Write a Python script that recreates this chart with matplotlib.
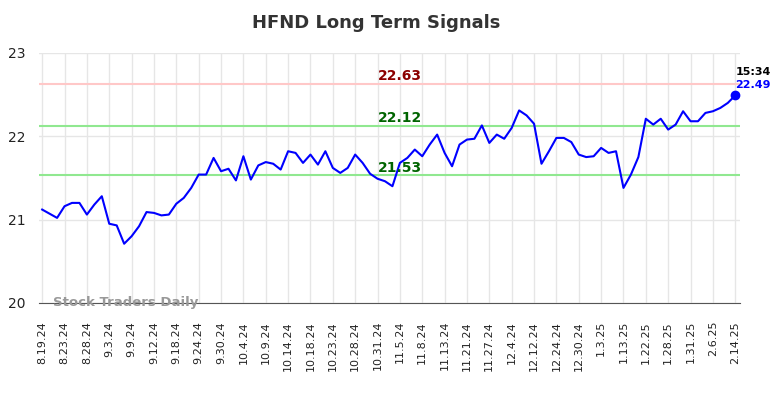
import matplotlib
matplotlib.use("Agg")
import matplotlib.pyplot as plt

# === Data ===
title = "HFND Long Term Signals"
tick_labels = ["8.19.24", "8.23.24", "8.28.24", "9.3.24", "9.9.24", "9.12.24", "9.18.24",
               "9.24.24", "9.30.24", "10.4.24", "10.9.24", "10.14.24", "10.18.24", "10.23.24",
               "10.28.24", "10.31.24", "11.5.24", "11.8.24", "11.13.24", "11.21.24", "11.27.24",
               "12.4.24", "12.12.24", "12.24.24", "12.30.24", "1.3.25", "1.13.25", "1.22.25",
               "1.28.25", "1.31.25", "2.6.25", "2.14.25"]
prices = [21.12, 21.07, 21.02, 21.16, 21.20, 21.20, 21.06, 21.18, 21.28, 20.95,
          20.93, 20.71, 20.80, 20.92, 21.09, 21.08, 21.05, 21.06, 21.19, 21.26,
          21.38, 21.54, 21.54, 21.74, 21.58, 21.61, 21.47, 21.76, 21.48, 21.65,
          21.69, 21.67, 21.60, 21.82, 21.80, 21.68, 21.78, 21.66, 21.82, 21.62,
          21.56, 21.62, 21.78, 21.68, 21.55, 21.49, 21.46, 21.40, 21.68, 21.74,
          21.84, 21.76, 21.90, 22.02, 21.80, 21.64, 21.90, 21.96, 21.97, 22.13,
          21.92, 22.02, 21.97, 22.10, 22.31, 22.25, 22.15, 21.67, 21.82, 21.98,
          21.98, 21.93, 21.78, 21.75, 21.76, 21.86, 21.80, 21.82, 21.38, 21.54,
          21.75, 22.21, 22.14, 22.21, 22.08, 22.14, 22.30, 22.18, 22.18, 22.28,
          22.30, 22.34, 22.40, 22.49]
resistance = 22.63
signals = [22.12, 21.53]
last_time = "15:34"
tick_step = 3

fig = plt.figure(figsize=(7.84, 3.98), dpi=100)
ax = fig.add_axes([0.050, 0.239, 0.894, 0.628])

x = list(range(len(prices)))
ax.plot(x, prices, color="blue", linewidth=1.5, zorder=3)
ax.plot(x[-1], prices[-1], "o", color="blue", markersize=6, zorder=4)

ax.axhline(resistance, color="#ffc8c8", linewidth=1.5, zorder=2)
for s in signals:
    ax.axhline(s, color="#90e890", linewidth=1.5, zorder=2)

# level labels sit a little right of the middle
label_x = 48
ax.text(label_x, resistance + 0.015, f"{resistance:.2f}", color="#8b0000", fontsize=10,
        fontweight="bold", ha="center", va="bottom")
for s in signals:
    ax.text(label_x, s + 0.01, f"{s:.2f}", color="#006400", fontsize=10,
            fontweight="bold", ha="center", va="bottom")

ax.text(x[-1], prices[-1] + 0.06, f"{prices[-1]:.2f}", color="blue", fontsize=8,
        fontweight="bold", ha="left", va="bottom")
ax.text(x[-1], prices[-1] + 0.22, last_time, color="black", fontsize=8,
        fontweight="bold", ha="left", va="bottom")

ax.text(1.5, 20.0, "Stock Traders Daily", color="#999999", fontsize=9.5,
        fontweight="bold", ha="left", va="center", zorder=5)

ax.set_xlim(-0.4, len(prices) - 0.35)
ax.set_ylim(20, 23)
ax.set_yticks([20, 21, 22, 23])
ax.set_xticks(range(0, len(prices), tick_step))
ax.set_xticklabels(tick_labels, rotation=90, fontsize=8)
ax.tick_params(axis="both", length=0, colors="#222222")
ax.tick_params(axis="x", pad=13)
ax.tick_params(axis="y", labelsize=10, pad=10)
ax.grid(True, color="#e6e6e6", linewidth=1)
ax.set_axisbelow(True)
for side in ["top", "right", "left"]:
    ax.spines[side].set_visible(False)
ax.spines["bottom"].set_color("#555555")

fig.suptitle(title, fontsize=13, fontweight="bold", color="#333333", x=0.48, y=0.965)

fig.savefig("out.png", dpi=100)
plt.close(fig)
